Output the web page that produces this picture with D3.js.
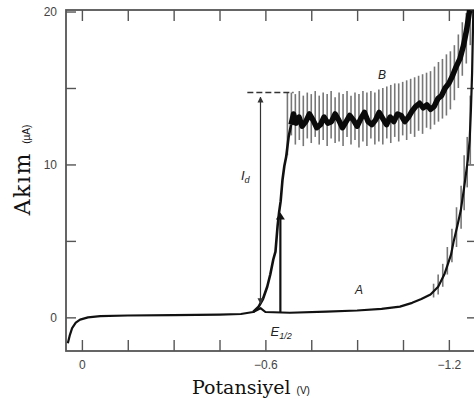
<!DOCTYPE html>
<html>
<head>
<meta charset="utf-8">
<script src="https://cdn.jsdelivr.net/npm/d3@7"></script>
<style>
  body { margin: 0; background: #fff; }
  svg { display: block; }
  .axis text { font-family: "Liberation Sans", Arial, sans-serif; font-size: 12px; fill: #444; }
  .axis line { stroke: #555; stroke-width: 1.4; }
  .lbl { font-family: "Liberation Sans", Arial, sans-serif; font-style: italic; fill: #222; }
  .title { font-family: "DejaVu Serif", serif; fill: #111; }
</style>
</head>
<body>
<svg id="chart" width="474" height="407"></svg>
<script>
// ticks
var xTickVals = [0, -0.15, -0.3, -0.45, -0.6, -0.75, -0.9, -1.05, -1.2];
var xLabelled = [0, -0.6, -1.2];
var yTickVals = [0, 5, 10, 15, 20];
var yLabelled = [0, 10, 20];

// curve A (residual current), [V, uA]
var curveA = [
  [0.046, -1.7], [0.040, -1.2], [0.032, -0.7], [0.020, -0.35], [0.006, -0.15], [-0.020, 0.0],
  [-0.060, 0.08], [-0.150, 0.12], [-0.300, 0.15], [-0.450, 0.18], [-0.520, 0.22], [-0.560, 0.35],
  [-0.584, 0.6], [-0.600, 0.35], [-0.680, 0.3], [-0.800, 0.38], [-0.900, 0.45], [-0.980, 0.55],
  [-1.040, 0.7], [-1.080, 0.95], [-1.110, 1.2], [-1.140, 1.5], [-1.165, 2.0], [-1.185, 2.8],
  [-1.197, 3.5], [-1.207, 4.1], [-1.216, 5.0], [-1.228, 6.0], [-1.239, 7.0], [-1.250, 8.5],
  [-1.256, 9.4], [-1.262, 10.3], [-1.268, 11.6], [-1.272, 13.5], [-1.276, 16.0], [-1.280, 20.1]
];
// oscillation bars on the rise of A, [V, low, high]
var barsA = [
  [-1.150, 1.3, 2.2], [-1.165, 1.5, 2.8], [-1.180, 2.0, 3.5], [-1.195, 2.8, 4.6],
  [-1.210, 3.6, 5.8], [-1.225, 4.6, 7.2], [-1.240, 5.8, 8.6], [-1.250, 7.0, 10.6],
  [-1.260, 8.5, 11.8], [-1.270, 10.0, 14.5]
];

// curve B (polarographic wave): rising part then plateau (mean line)
var riseB = [
  [-0.560, 0.35], [-0.578, 0.7], [-0.592, 1.2], [-0.606, 2.0], [-0.616, 2.8], [-0.626, 3.8],
  [-0.633, 4.3], [-0.640, 6.0], [-0.645, 6.9], [-0.650, 7.6], [-0.656, 9.0], [-0.662, 9.9],
  [-0.668, 10.5], [-0.676, 11.8], [-0.684, 12.6]
];
var plateauB = [
  [-0.684, 12.6], [-0.692, 13.3], [-0.700, 12.7], [-0.710, 13.1], [-0.720, 12.5], [-0.732, 12.8],
  [-0.744, 13.3], [-0.756, 12.9], [-0.768, 12.4], [-0.780, 12.6], [-0.792, 13.1], [-0.804, 12.7],
  [-0.816, 12.8], [-0.828, 13.3], [-0.840, 12.9], [-0.852, 12.4], [-0.864, 12.8], [-0.876, 13.2],
  [-0.888, 12.9], [-0.900, 12.5], [-0.912, 13.0], [-0.924, 13.4], [-0.936, 12.8], [-0.948, 12.6],
  [-0.960, 12.9], [-0.972, 13.4], [-0.984, 13.0], [-0.996, 12.6], [-1.008, 13.1], [-1.020, 12.8],
  [-1.032, 13.3], [-1.044, 13.2], [-1.056, 12.8], [-1.068, 13.1], [-1.080, 13.5], [-1.092, 13.8],
  [-1.104, 14.0], [-1.116, 13.7], [-1.128, 13.9], [-1.140, 13.6], [-1.152, 13.8], [-1.164, 14.3],
  [-1.176, 14.5], [-1.188, 15.0], [-1.200, 15.3], [-1.212, 15.8], [-1.224, 16.4], [-1.236, 16.9],
  [-1.248, 17.8], [-1.258, 18.8], [-1.268, 20.1]
];
// oscillation bars on B, [V, low, high]
var barsB = [
  [-0.672, 10.6, 14.7], [-0.685, 11.9, 14.7], [-0.698, 11.3, 14.6], [-0.711, 11.6, 14.8],
  [-0.724, 11.2, 14.5], [-0.737, 11.7, 14.7], [-0.750, 11.4, 14.6], [-0.763, 11.8, 14.8],
  [-0.776, 11.3, 14.5], [-0.789, 11.6, 14.7], [-0.802, 11.2, 14.6], [-0.815, 11.7, 14.8],
  [-0.828, 11.4, 14.4], [-0.841, 11.5, 14.7], [-0.854, 11.2, 14.6], [-0.867, 11.8, 14.8],
  [-0.880, 11.3, 14.5], [-0.893, 11.6, 14.7], [-0.906, 11.1, 14.6], [-0.919, 11.5, 14.8],
  [-0.932, 11.2, 14.7], [-0.945, 11.7, 14.8], [-0.958, 11.3, 14.7], [-0.971, 11.5, 14.9],
  [-0.984, 11.3, 15.0], [-0.997, 11.7, 15.1], [-1.010, 11.4, 15.2], [-1.023, 11.8, 15.3],
  [-1.036, 11.5, 15.3], [-1.049, 11.9, 15.4], [-1.062, 11.6, 15.5], [-1.075, 12.0, 15.6],
  [-1.088, 11.8, 15.7], [-1.101, 12.2, 15.8], [-1.114, 12.0, 15.9], [-1.127, 12.4, 16.0],
  [-1.140, 12.3, 16.1], [-1.153, 12.6, 16.4], [-1.166, 12.8, 16.7], [-1.179, 13.0, 16.9],
  [-1.192, 13.2, 17.2], [-1.205, 13.6, 17.4], [-1.218, 14.2, 17.8], [-1.231, 15.0, 18.5],
  [-1.244, 15.8, 19.3], [-1.257, 16.6, 19.9], [-1.270, 17.8, 20.1]
];

// annotations
var limitLevel = { v0: -0.541, v1: -0.692, i: 14.7 };   // dashed diffusion-limit line
var idArrow = { v: -0.584, top: 14.4, bottom: 0.9 };
var halfWave = { v: -0.649, top: 6.6, bottom: 0.33 };

var svg = d3.select('#chart');
var m = { left: 66, top: 10, right: 477, bottom: 351 };
var x = d3.scaleLinear().domain([0.052, -1.292]).range([m.left, m.right]);
var y = d3.scaleLinear().domain([-2.2, 20.1]).range([m.bottom, m.top]);

var defs = svg.append('defs');
defs.append('clipPath').attr('id', 'clip').append('rect')
  .attr('x', m.left).attr('y', m.top).attr('width', m.right - m.left).attr('height', m.bottom - m.top);
defs.append('marker').attr('id', 'arr').attr('viewBox', '0 0 10 10').attr('refX', 9).attr('refY', 5)
  .attr('markerWidth', 5).attr('markerHeight', 6).attr('orient', 'auto-start-reverse')
  .append('path').attr('d', 'M0,0L10,5L0,10z').attr('fill', '#333');

// axes, ticks point inwards
function fmtX(d) { return xLabelled.indexOf(d) >= 0 ? (d === 0 ? '0' : '\u2212' + Math.abs(d).toFixed(1)) : ''; }
function fmtY(d) { return yLabelled.indexOf(d) >= 0 ? String(d) : ''; }

svg.append('g').attr('class', 'axis').attr('transform', 'translate(0,' + m.bottom + ')')
  .call(d3.axisBottom(x).tickValues(xTickVals).tickSizeInner(-11).tickSizeOuter(0).tickPadding(9).tickFormat(fmtX));
svg.append('g').attr('class', 'axis').attr('transform', 'translate(0,' + m.top + ')')
  .call(d3.axisTop(x).tickValues(xTickVals).tickSizeInner(-11).tickSizeOuter(0).tickFormat(''));
svg.append('g').attr('class', 'axis').attr('transform', 'translate(' + m.left + ',0)')
  .call(d3.axisLeft(y).tickValues(yTickVals).tickSizeInner(-10).tickSizeOuter(0).tickPadding(9).tickFormat(fmtY));
svg.append('g').attr('class', 'axis').attr('transform', 'translate(' + m.right + ',0)')
  .call(d3.axisRight(y).tickValues(yTickVals).tickSizeInner(-10).tickSizeOuter(0).tickFormat(''));
svg.selectAll('.axis .domain').remove();

svg.append('rect').attr('x', m.left).attr('y', m.top).attr('width', m.right - m.left).attr('height', m.bottom - m.top)
  .attr('fill', 'none').attr('stroke', '#555').attr('stroke-width', 1.8);

var plot = svg.append('g').attr('clip-path', 'url(#clip)');
var line = d3.line().x(function(d) { return x(d[0]); }).y(function(d) { return y(d[1]); });

// oscillation bars
plot.append('g').selectAll('line').data(barsB.concat(barsA)).enter().append('line')
  .attr('x1', function(d) { return x(d[0]); }).attr('x2', function(d) { return x(d[0]); })
  .attr('y1', function(d) { return y(d[1]); }).attr('y2', function(d) { return y(d[2]); })
  .attr('stroke', '#777').attr('stroke-width', 1.6);

plot.append('path').datum(curveA).attr('d', line).attr('fill', 'none')
  .attr('stroke', '#111').attr('stroke-width', 2.2).attr('stroke-linejoin', 'round');
plot.append('path').datum(riseB).attr('d', line).attr('fill', 'none')
  .attr('stroke', '#111').attr('stroke-width', 2.6).attr('stroke-linejoin', 'round');
plot.append('path').datum(plateauB).attr('d', line).attr('fill', 'none')
  .attr('stroke', '#0a0a0a').attr('stroke-width', 5.5).attr('stroke-linejoin', 'round');

// dashed limiting-current level
svg.append('line').attr('x1', x(limitLevel.v0)).attr('x2', x(limitLevel.v1))
  .attr('y1', y(limitLevel.i)).attr('y2', y(limitLevel.i))
  .attr('stroke', '#333').attr('stroke-width', 1.4).attr('stroke-dasharray', '6,3');

// I_d double arrow
svg.append('line').attr('x1', x(idArrow.v)).attr('x2', x(idArrow.v))
  .attr('y1', y(idArrow.bottom)).attr('y2', y(idArrow.top))
  .attr('stroke', '#333').attr('stroke-width', 1.2)
  .attr('marker-start', 'url(#arr)').attr('marker-end', 'url(#arr)');

// E1/2 marker
svg.append('line').attr('x1', x(halfWave.v)).attr('x2', x(halfWave.v))
  .attr('y1', y(halfWave.bottom)).attr('y2', y(halfWave.top))
  .attr('stroke', '#111').attr('stroke-width', 2.2);
svg.append('path')
  .attr('transform', 'translate(' + x(halfWave.v) + ',' + y(halfWave.top) + ')')
  .attr('d', 'M-4.5,3L0,-4L4.5,3Z').attr('fill', '#111');

// curve / quantity labels
function subLabel(tx, ty, main, sub, size) {
  var t = svg.append('text').attr('class', 'lbl').attr('x', tx).attr('y', ty).attr('font-size', size);
  t.append('tspan').text(main);
  t.append('tspan').attr('font-size', size * 0.7).attr('dy', 3).text(sub);
}
svg.append('text').attr('class', 'lbl').attr('x', x(-0.968)).attr('y', y(15.6)).attr('font-size', 12).text('B');
svg.append('text').attr('class', 'lbl').attr('x', x(-0.893)).attr('y', y(1.5)).attr('font-size', 12).text('A');
subLabel(x(-0.520), y(9.0), 'I', 'd', 13);
subLabel(x(-0.617), y(-1.2), 'E', '1/2', 13);

// axis titles
var yt = svg.append('text').attr('class', 'title')
  .attr('transform', 'translate(30,170) rotate(-90)')
  .attr('text-anchor', 'middle');
yt.append('tspan').attr('font-size', 22).attr('letter-spacing', 1.5).text('Akım ');
yt.append('tspan').attr('font-size', 10).attr('font-family', '"Liberation Sans", Arial, sans-serif').text('(µA)');

var xt = svg.append('text').attr('class', 'title')
  .attr('x', 251).attr('y', 394).attr('text-anchor', 'middle');
xt.append('tspan').attr('font-size', 19).text('Potansiyel ');
xt.append('tspan').attr('font-size', 10).attr('font-family', '"Liberation Sans", Arial, sans-serif').text('(V)');
</script>
</body>
</html>
